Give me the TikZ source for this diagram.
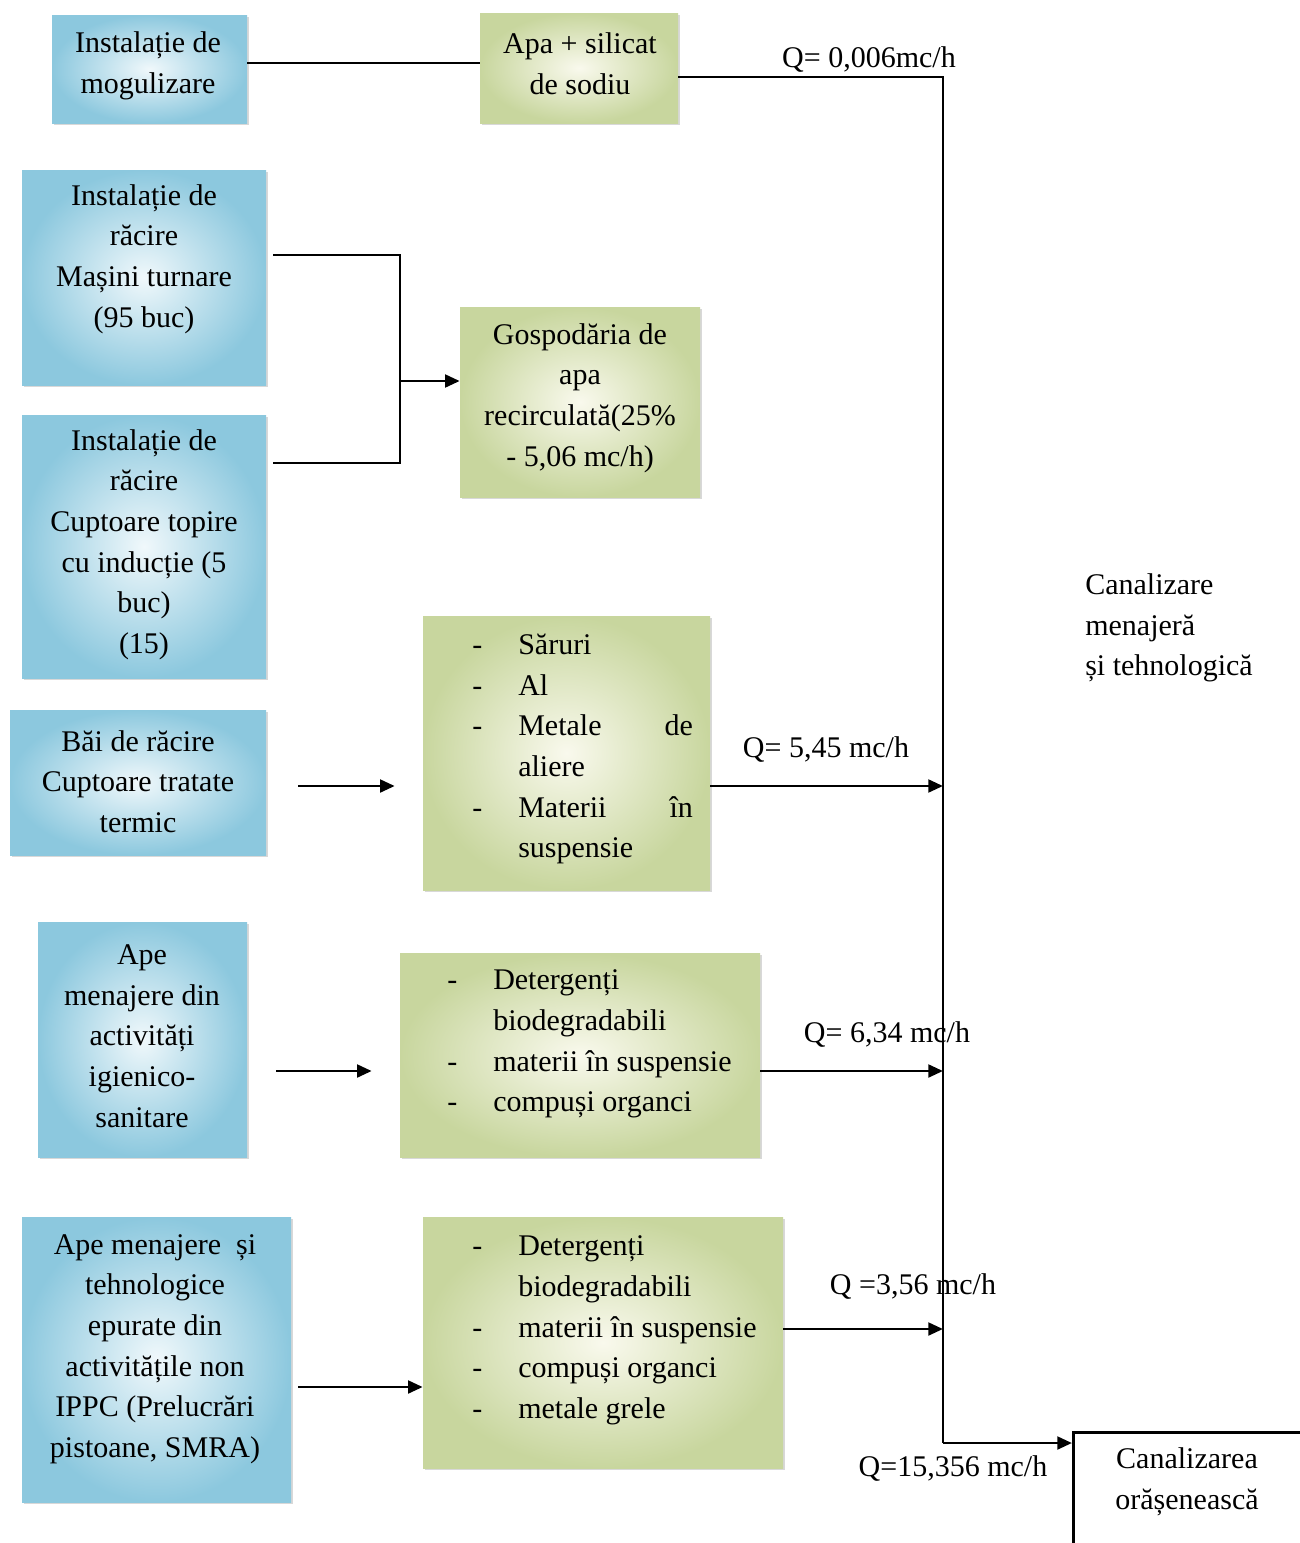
\documentclass[tikz,border=0pt]{standalone}
\usepackage{fontspec}
\setmainfont{Liberation Serif}
\usetikzlibrary{arrows.meta,shadows,calc}
\definecolor{bluedark}{RGB}{140,200,222}
\definecolor{bluelight}{RGB}{240,248,251}
\definecolor{greendark}{RGB}{200,214,158}
\definecolor{greenlight}{RGB}{249,249,237}
\tikzset{
  bx/.style={inner sep=0pt, drop shadow={shadow xshift=1.5pt, shadow yshift=-1.5pt, opacity=0.3}},
  bluebox/.style={bx, shading=radial, inner color=bluelight, outer color=bluedark},
  greenbox/.style={bx, shading=radial, inner color=greenlight, outer color=greendark},
  txt/.style={font=\fontsize{22.5}{30.5}\selectfont, inner sep=0pt, align=center},
  lst/.style={txt, align=left, anchor=west},
  conn/.style={line width=2.2pt, draw=black},
  arr/.style={conn, -{Triangle[length=11pt,width=9.5pt]}},
}
\newcommand\dsh{\makebox[34.5pt][l]{-}}
\newcommand\ind{\hspace*{34.5pt}}
\begin{document}
\begin{tikzpicture}[x=0.75pt,y=-0.75pt]
\useasboundingbox (0,0) rectangle (1300,1543);
\fill[white] (0,0) rectangle (1300,1543);

% boxes
\node[bluebox, minimum width=195*0.75pt, minimum height=108*0.75pt] (b1) at (149.5,69) {};
\node[greenbox, minimum width=198*0.75pt, minimum height=110*0.75pt] (g1) at (579,68) {};
\node[bluebox, minimum width=244*0.75pt, minimum height=215*0.75pt] (b2) at (144,277.5) {};
\node[greenbox, minimum width=240*0.75pt, minimum height=190*0.75pt] (g2) at (580,402) {};
\node[bluebox, minimum width=244*0.75pt, minimum height=263*0.75pt] (b3) at (144,546.5) {};
\node[bluebox, minimum width=256*0.75pt, minimum height=145*0.75pt] (b4) at (138,782.5) {};
\node[greenbox, minimum width=287*0.75pt, minimum height=274*0.75pt] (g3) at (566.5,753) {};
\node[bluebox, minimum width=209*0.75pt, minimum height=235*0.75pt] (b5) at (142.5,1039.5) {};
\node[greenbox, minimum width=360*0.75pt, minimum height=204*0.75pt] (g4) at (580,1055) {};
\node[bluebox, minimum width=269*0.75pt, minimum height=285*0.75pt] (b6) at (156.5,1359.5) {};
\node[greenbox, minimum width=360*0.75pt, minimum height=251*0.75pt] (g5) at (603,1342.5) {};
\node[draw, line width=2.2pt, inner sep=0pt, anchor=north west, minimum width=270*0.75pt, minimum height=150*0.75pt] (can) at (1072,1431) {};

% texts
\node[txt] (b1t) at (148,66) {Instalație de\\mogulizare};
\node[txt] (g1t) at (580,63.5) {Apa + silicat\\de sodiu};
\node[txt] (b2t) at (144,259) {Instalație de\\răcire\\Mașini turnare\\(95 buc)};
\node[txt] (g2t) at (580,398) {Gospodăria de\\apa\\recirculată(25\%\\- 5,06 mc/h)};
\node[txt] (b3t) at (144,544.5) {Instalație de\\răcire\\Cuptoare topire\\cu inducție (5\\buc)\\(15)};
\node[txt] (b4t) at (138,781.5) {Băi de răcire\\Cuptoare tratate\\termic};
\node[txt] (b5t) at (142,1036) {Ape\\menajere din\\activități\\igienico-\\sanitare};
\node[txt] (b6t) at (155,1349) {Ape menajere~ și\\tehnologice\\epurate din\\activitățile non\\IPPC (Prelucrări\\pistoane, SMRA)};
\node[lst] (g3t) at (472,749) {\dsh Săruri\\\dsh Al\\\dsh\makebox[131pt][s]{Metale\hfill de}\\\ind aliere\\\dsh\makebox[131pt][s]{Materii\hfill în}\\\ind suspensie};
\node[lst] (g4t) at (447,1044) {\dsh Detergenți\\\ind biodegradabili\\\dsh materii în suspensie\\\dsh compuși organci};
\node[lst] (g5t) at (472,1330.5) {\dsh Detergenți\\\ind biodegradabili\\\dsh materii în suspensie\\\dsh compuși organci\\\dsh metale grele};
\node[txt, align=left, anchor=west] (cmt) at (1085,628) {Canalizare\\menajeră\\și tehnologică};
\node[txt] (cant) at (1187,1482) {Canalizarea\\orășenească};

% flow labels
\node[txt] (q1) at (869,60) {Q= 0,006mc/h};
\node[txt] (q2) at (826,750) {Q= 5,45 mc/h};
\node[txt] (q3) at (887,1035) {Q= 6,34 mc/h};
\node[txt] (q4) at (913,1287) {Q =3,56 mc/h};
\node[txt] (q5) at (953,1469) {Q=15,356 mc/h};

% coordinates
\coordinate (t0) at (943,77);
\coordinate (t4) at (943,1443);
\coordinate (m1) at (400,255);
\coordinate (m2) at (400,463);
\coordinate (m3) at (400,381);
\coordinate (y4) at (0,786);
\coordinate (y5) at (0,1071);
\coordinate (y6) at (0,1387);
\coordinate (y7) at (0,1329);

% connectors
\draw[conn] ([yshift=4.5pt]b1.east) -- ([yshift=4.5pt]b1.east -| g1.west);
\draw[conn] ([yshift=-6.75pt]g1.east) -- (t0) -- (t4);
\draw[conn] ([xshift=5.25pt]b2.east |- m1) -- (m1) -- (m2) -- ([xshift=5.25pt]b3.east |- m2);
\draw[arr] (m3) -- (m3 -| g2.west);
\draw[arr, shorten <=24pt, shorten >=21pt] (b4.east |- y4) -- (g3.west |- y4);
\draw[arr] (g3.east |- y4) -- (t0 |- y4);
\draw[arr, shorten <=21.75pt, shorten >=21pt] (b5.east |- y5) -- (g4.west |- y5);
\draw[arr] (g4.east |- y5) -- (t0 |- y5);
\draw[arr, shorten <=5.25pt] (b6.east |- y6) -- (g5.west |- y6);
\draw[arr] (g5.east |- y7) -- (t0 |- y7);
\draw[arr] (t4) -- (t4 -| can.west);
\end{tikzpicture}
\end{document}
